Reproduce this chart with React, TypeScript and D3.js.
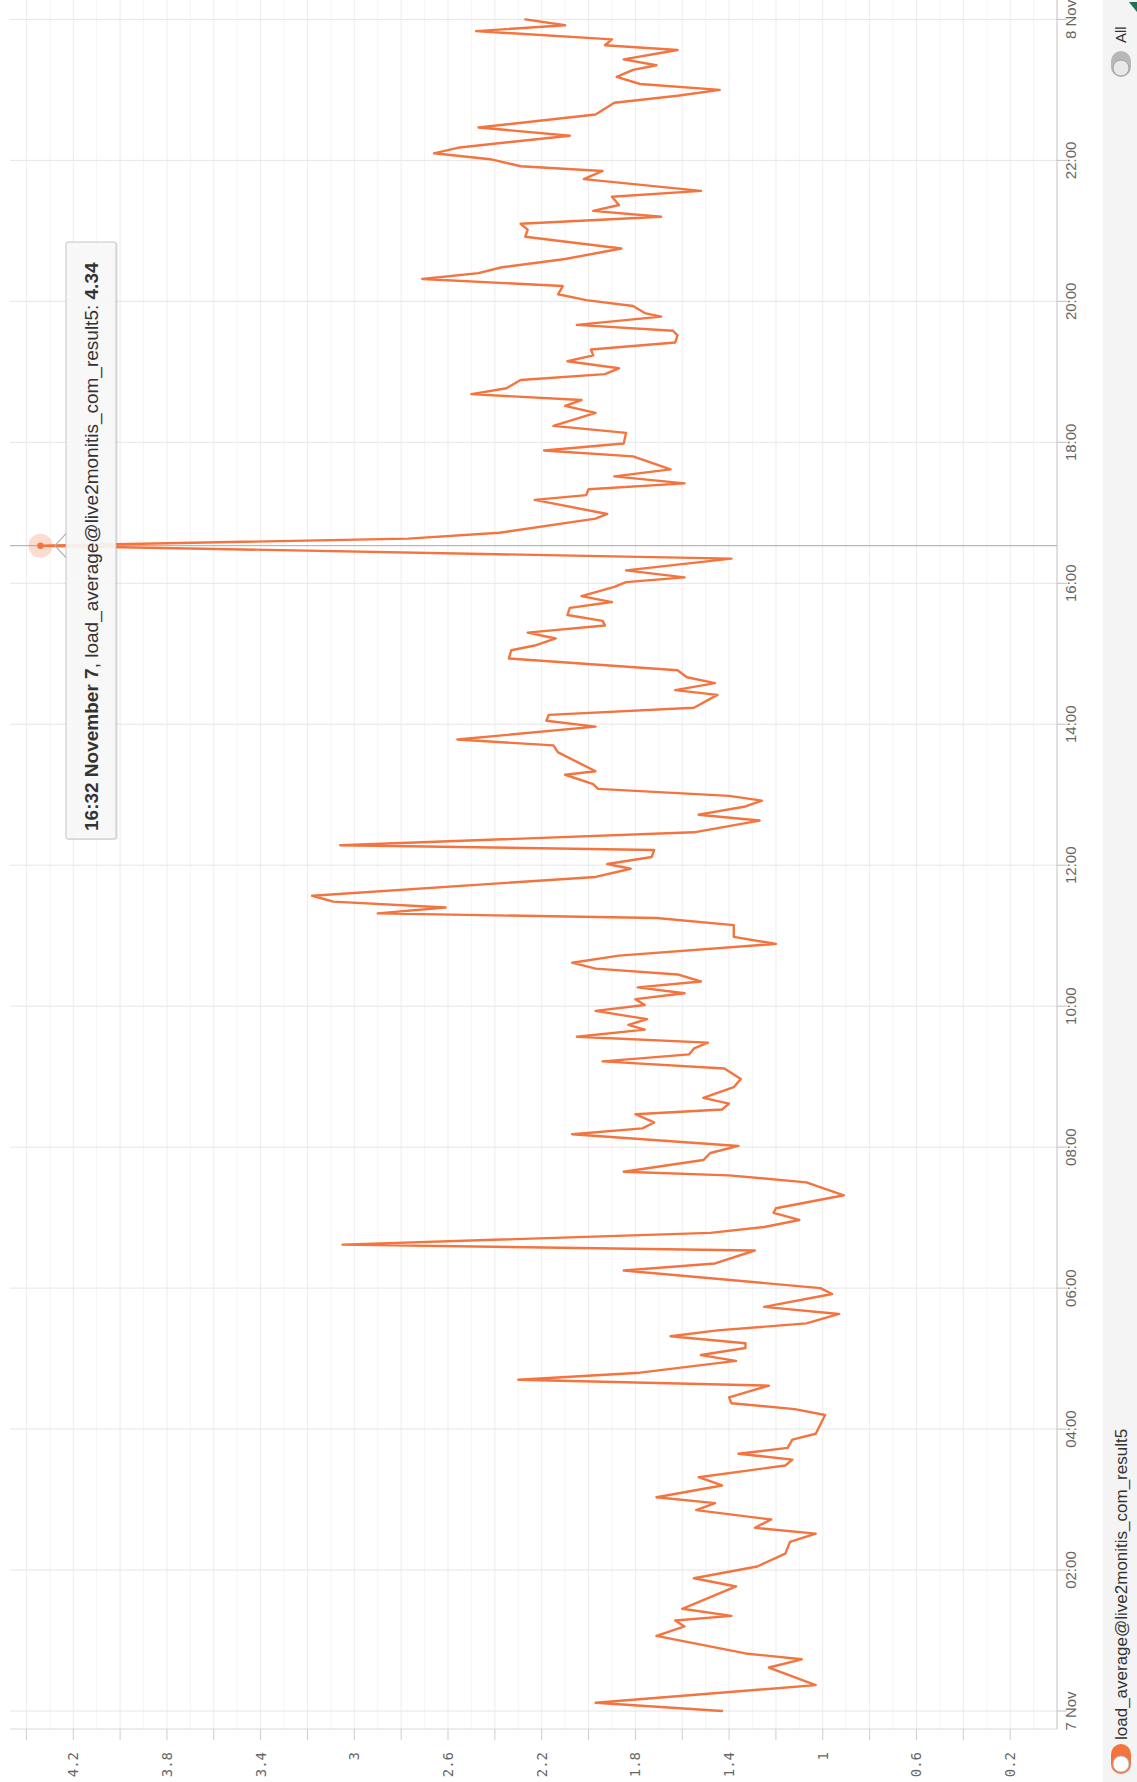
import React from 'react';
import * as d3 from 'd3';

// minutes since 7 Nov 00:00
const minutes = [
  0, 7, 22, 37, 44, 49, 64, 72, 77, 81, 87, 106, 113, 123, 134, 144, 151, 156, 163, 171, 177, 182, 192,
  199, 209, 214, 219, 224, 231, 236, 252, 257, 262, 267, 277, 282, 288, 298, 303, 309, 313, 319, 324, 330,
  338, 344, 355, 360, 375, 381, 392, 397, 407, 412, 418, 424, 428, 439, 450, 456, 459, 469, 475, 481, 491,
  496, 501, 508, 512, 517, 522, 531, 538, 547, 553, 559, 564, 569, 574, 580, 584, 589, 596, 601, 606, 611,
  616, 621, 627, 632, 637, 643, 653, 659, 669, 675, 679, 684, 689, 694, 710, 717, 721, 727, 733, 737, 748,
  758, 763, 770, 775, 779, 785, 789, 797, 800, 816, 822, 827, 838, 843, 848, 854, 865, 869, 875, 880, 886,
  896, 903, 907, 913, 918, 924, 928, 933, 939, 944, 949, 957, 961, 965, 971, 981, 992, 998, 1003, 1015,
  1019, 1031, 1035, 1040, 1045, 1051, 1057, 1068, 1073, 1079, 1088, 1094, 1105, 1111, 1116, 1121, 1126,
  1133, 1138, 1143, 1149, 1154, 1159, 1165, 1171, 1175, 1180, 1187, 1190, 1196, 1201, 1206, 1213, 1219,
  1224, 1229, 1236, 1245, 1255, 1261, 1266, 1272, 1277, 1282, 1289, 1294, 1304, 1311, 1315, 1321, 1326,
  1331, 1341, 1348, 1359, 1369, 1375, 1380, 1385, 1391, 1397, 1401, 1406, 1414, 1418, 1423, 1430, 1435, 1440,
];

const loadValues = [
  1.43, 1.97, 1.03, 1.23, 1.09, 1.33, 1.71, 1.59, 1.63, 1.39, 1.6, 1.37, 1.55, 1.28, 1.16, 1.14, 1.03, 1.29, 1.22, 1.54, 1.46, 1.71, 1.43,
  1.53, 1.16, 1.13, 1.36, 1.15, 1.13, 1.03, 0.99, 1.12, 1.39, 1.4, 1.23, 2.3, 1.78, 1.37, 1.52, 1.33, 1.33, 1.65, 1.45, 1.07,
  0.93, 1.25, 0.96, 1.01, 1.85, 1.46, 1.29, 3.05, 1.48, 1.25, 1.1, 1.21, 1.2, 0.91, 1.07, 1.4, 1.85, 1.51, 1.48, 1.36, 2.07,
  1.77, 1.72, 1.8, 1.43, 1.4, 1.51, 1.38, 1.35, 1.42, 1.94, 1.57, 1.55, 1.49, 2.05, 1.76, 1.83, 1.75, 1.97, 1.76, 1.8, 1.59,
  1.79, 1.52, 1.62, 1.97, 2.07, 1.87, 1.2, 1.38, 1.38, 1.71, 2.9, 2.61, 3.09, 3.18, 1.97, 1.82, 1.92, 1.73, 1.72, 3.06, 1.55,
  1.27, 1.53, 1.33, 1.26, 1.4, 1.96, 1.98, 2.1, 1.97, 2.13, 2.15, 2.56, 1.97, 2.18, 2.17, 1.55, 1.45, 1.63, 1.46, 1.58, 1.62,
  2.34, 2.33, 2.23, 2.14, 2.26, 1.93, 1.94, 2.09, 2.08, 1.9, 2.03, 1.89, 1.84, 1.59, 1.84, 1.39, 4.34, 2.77, 2.38, 1.97,
  1.92, 2.23, 2.01, 2.0, 1.59, 1.89, 1.65, 1.81, 2.19, 1.85, 1.84, 2.15, 1.97, 2.1, 2.03, 2.5, 2.35,
  2.29, 1.93, 1.87, 2.09, 1.98, 1.99, 1.63, 1.62, 1.64, 2.05, 1.69, 1.76, 1.81, 2.01, 2.13, 2.11, 2.71,
  2.47, 2.37, 2.1, 1.86, 2.27, 2.26, 2.29, 1.69, 1.98, 1.87, 1.9, 1.52, 2.02, 1.94, 2.29, 2.42, 2.66,
  2.55, 2.08, 2.47, 1.97, 1.89, 1.62, 1.44, 1.78, 1.88, 1.81, 1.71, 1.85, 1.62, 1.93, 1.9, 2.48, 2.1, 2.27,
];

const timeTickMinutes = [0, 120, 240, 360, 480, 600, 720, 840, 960, 1080, 1200, 1320, 1440];
const timeTickLabels = ['7 Nov', '02:00', '04:00', '06:00', '08:00', '10:00', '12:00', '14:00', '16:00', '18:00', '20:00', '22:00', '8 Nov'];
const valueTickMarks = [0.2, 0.4, 0.6, 0.8, 1, 1.2, 1.4, 1.6, 1.8, 2, 2.2, 2.4, 2.6, 2.8, 3, 3.2, 3.4, 3.6, 3.8, 4, 4.2, 4.4];
const valueTickLabels = [0.2, 0.6, 1, 1.4, 1.8, 2.2, 2.6, 3, 3.4, 3.8, 4.2];

const seriesName = 'load_average@live2monitis_com_result5';
const hoverMinute = 992;
const hoverValue = 4.34;
const hoverLabel = '16:32 November 7';

export default function App() {
  const W = 1137;
  const H = 1782;
  // inner (unrotated) frame: X = time (left->right), Y = value (top->bottom)
  const x = d3.scaleLinear().domain([0, 1440]).range([71, 1762.6]);
  const y = d3.scaleLinear().domain([0, 4.47]).range([1057, 10]);
  const plotX0 = 53;
  const plotX1 = 1782;
  const yTop = 10;
  const yBot = 1057;

  const data = minutes.map((m, i) => [m, loadValues[i]] as [number, number]);
  const line = d3
    .line<[number, number]>()
    .x((d) => x(d[0]))
    .y((d) => y(d[1]));

  const minorGrid = d3.range(1, 45).map((k) => k / 10);

  const hx = x(hoverMinute);
  const hy = y(hoverValue);

  const color = '#f4743f';
  const font = "'Liberation Sans', Arial, sans-serif";

  return (
    <svg
      width={W}
      height={H}
      style={{ position: 'absolute', left: 0, top: 0, display: 'block' }}
      xmlns="http://www.w3.org/2000/svg"
    >
      <rect x={0} y={0} width={W} height={H} fill="#ffffff" />
      <rect x={1103} y={0} width={W - 1103} height={H} fill="#f4f4f4" />
      <g transform={`translate(0,${H}) rotate(-90)`}>
        {/* minor value grid */}
        {minorGrid.map((v) => (
          <line
            key={'mg' + v}
            x1={plotX0}
            x2={plotX1}
            y1={y(v)}
            y2={y(v)}
            stroke={Math.round(v * 10) % 2 === 0 ? '#ededed' : '#f5f5f5'}
            strokeWidth={1}
          />
        ))}
        {/* time grid */}
        {timeTickMinutes.map((m) => (
          <line key={'tg' + m} x1={x(m)} x2={x(m)} y1={yTop} y2={yBot} stroke="#e6e6e6" strokeWidth={1} />
        ))}
        {/* value axis */}
        <line x1={plotX0} x2={plotX0} y1={yTop} y2={yBot} stroke="#d8d8d8" />
        {valueTickMarks.map((v) => (
          <line key={'vt' + v} x1={plotX0} x2={plotX0 - 11} y1={y(v)} y2={y(v)} stroke="#cccccc" />
        ))}
        {valueTickLabels.map((v) => (
          <text
            key={'vl' + v}
            x={30}
            y={y(v)}
            dy="0.35em"
            textAnchor="end"
            fontFamily="'DejaVu Sans Mono', monospace"
            fontSize={14}
            fill="#666666"
          >
            {String(v)}
          </text>
        ))}
        {/* time axis */}
        <line x1={plotX0} x2={plotX1} y1={yBot} y2={yBot} stroke="#c0c0c0" />
        {timeTickMinutes.map((m) => (
          <line key={'tt' + m} x1={x(m)} x2={x(m)} y1={yBot} y2={yBot + 10} stroke="#c0c0c0" />
        ))}
        {timeTickMinutes.map((m, i) => (
          <text
            key={'tl' + m}
            x={x(m)}
            y={1076}
            textAnchor="middle"
            fontFamily={font}
            fontSize={15}
            fill="#666666"
          >
            {timeTickLabels[i]}
          </text>
        ))}
        {/* crosshair */}
        <line x1={hx} x2={hx} y1={yTop} y2={yBot} stroke="#a8a8a8" strokeWidth={1} />
        {/* series */}
        <path d={line(data) || ''} fill="none" stroke={color} strokeWidth={2.4} strokeLinejoin="round" strokeLinecap="round" />
        {/* hover marker */}
        <circle cx={hx} cy={hy} r={12} fill={color} fillOpacity={0.25} />
        <circle cx={hx} cy={hy} r={3.2} fill={color} />
        {/* tooltip */}
        <rect x={942} y={68} width={598} height={50} fill="#000" fillOpacity={0.08} rx={2} />
        <rect x={943} y={66} width={597} height={50} fill="#f8f8f8" fillOpacity={0.92} stroke="#c4c4c4" strokeWidth={1} rx={2} />
        <path d={`M ${hx + 12} 66 L ${hx} 55 L ${hx - 12} 66`} fill="none" stroke="#b0b0b0" strokeWidth={1.2} />
        <text x={951} y={98} fontFamily={font} fontSize={19} fill="#333333">
          <tspan fontWeight="bold">{hoverLabel}</tspan>
          <tspan>{', ' + seriesName + ': '}</tspan>
          <tspan fontWeight="bold">{String(hoverValue)}</tspan>
        </text>
        {/* legend */}
        <rect x={8} y={1111} width={30} height={20} rx={10} fill={color} />
        <circle cx={18} cy={1121} r={8} fill="#ffffff" stroke="#bbbbbb" strokeWidth={1} />
        <text x={42} y={1127} fontFamily={font} fontSize={17} fill="#333333">
          {seriesName}
        </text>
        {/* All toggle */}
        <rect x={1705} y={1111} width={26} height={20} rx={10} fill="#b8b8b8" />
        <circle cx={1714} cy={1121} r={8} fill="#e8e8e8" stroke="#a0a0a0" strokeWidth={1} />
        <text x={1739} y={1126} fontFamily={font} fontSize={15} fill="#333333">
          All
        </text>
      </g>
      <polygon points="1129,2 1137,2 1137,12" fill="#1f6f5c" />
    </svg>
  );
}
